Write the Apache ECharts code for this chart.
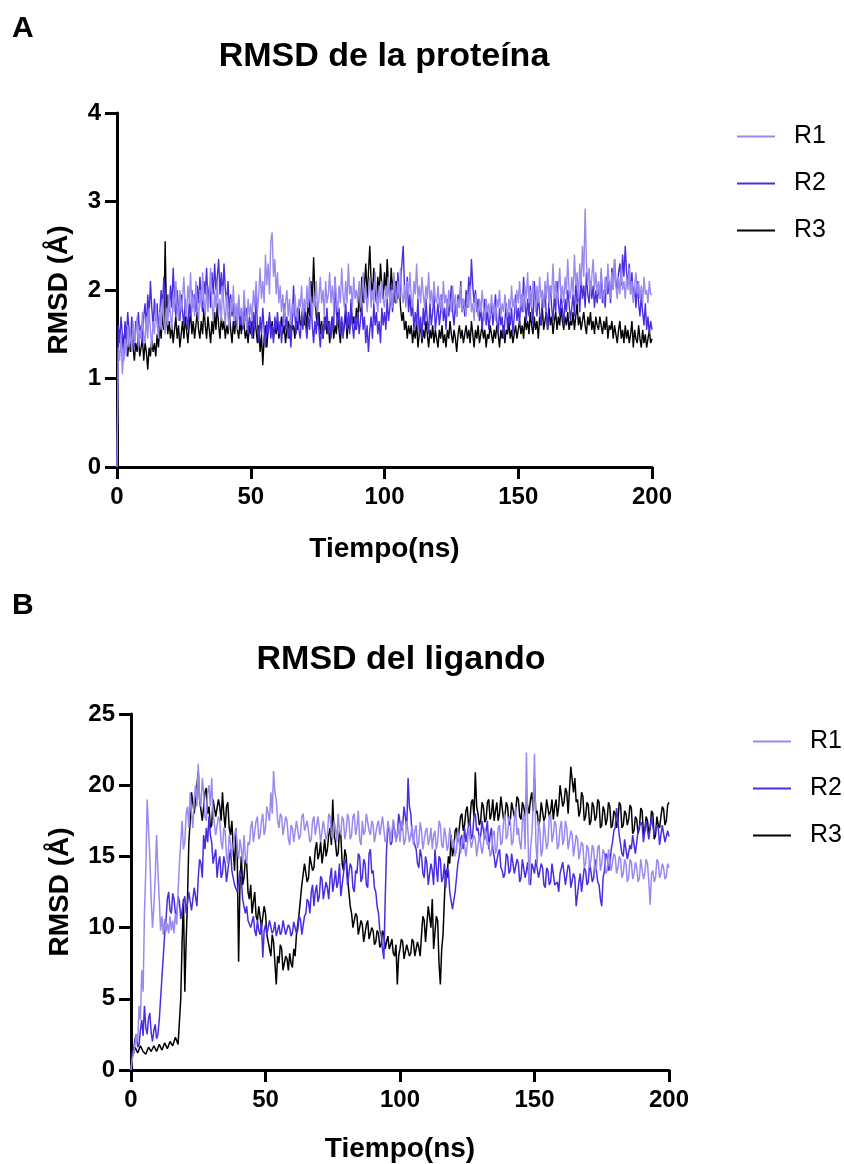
<!DOCTYPE html>
<html>
<head>
<meta charset="utf-8">
<script src="https://cdn.jsdelivr.net/npm/echarts@6/dist/echarts.min.js"></script>
<style>
html,body{margin:0;padding:0;background:#fff;}
#chart{width:844px;height:1164px;}
</style>
</head>
<body>
<div id="chart"></div>
<script>
// ---------- Data ----------
const seriesNames = ['R1', 'R2', 'R3'];
const xTicks = [0, 50, 100, 150, 200];
const yTicksProtein = [0, 1, 2, 3, 4];
const yTicksLigand = [0, 5, 10, 15, 20, 25];
const proteinStepNs = 0.5;   // sampling of panel A series
const ligandStepNs = 0.5;    // sampling of panel B series

// Panel A: RMSD de la proteína (t = 0..200 ns, every 0.5 ns)
const proteinR1 = [
0,1.35,1.20,1.50,1.05,1.30,1.45,1.25,1.60,1.35,1.55,1.30,1.65,1.40,1.50,1.70,1.35,1.55,1.45,1.75,
1.50,1.40,1.70,1.45,1.80,1.55,1.35,1.65,1.50,1.85,1.60,1.45,1.75,1.55,1.90,1.65,1.50,1.80,1.60,1.95,
1.70,1.55,1.95,1.75,2.10,1.80,1.65,2.00,1.75,1.90,2.15,1.80,1.70,2.05,1.85,2.20,1.75,1.95,1.70,2.10,
1.85,1.65,2.00,1.80,2.20,1.90,1.70,2.05,1.75,1.95,2.25,1.85,1.65,2.00,1.80,2.10,1.70,1.90,1.65,2.05,
1.80,1.60,1.95,1.70,1.55,1.90,1.75,2.05,1.65,1.85,1.55,1.95,1.70,1.80,1.60,2.00,1.75,1.55,1.90,1.70,
1.85,1.65,2.00,1.80,2.10,1.75,1.95,2.25,1.90,2.10,1.85,2.40,2.05,2.30,1.95,2.55,2.65,2.15,2.35,1.95,
2.20,1.85,2.05,1.75,1.95,1.65,1.85,2.00,1.70,1.90,1.60,1.85,1.70,1.95,1.75,1.65,1.90,1.80,2.05,1.70,
1.90,1.75,2.05,1.80,2.15,1.85,1.70,1.95,1.80,2.10,1.75,1.90,2.15,1.85,2.00,1.70,2.10,1.85,1.95,2.20,
1.85,2.05,1.80,2.15,1.90,1.75,2.05,1.85,2.25,1.95,1.80,2.10,1.85,2.30,1.95,2.05,1.80,2.15,1.90,2.00,
1.85,2.10,1.80,1.95,2.20,1.85,2.05,1.75,1.95,2.15,1.80,2.00,1.85,2.20,1.90,1.75,2.05,1.85,2.10,1.90,
1.80,2.05,1.90,2.15,1.85,2.00,1.80,2.20,1.95,1.85,2.10,1.90,2.25,1.95,1.85,2.05,1.80,2.10,1.95,2.20,
1.90,1.80,2.10,1.95,2.30,1.90,2.05,1.85,2.15,1.95,1.80,2.05,1.90,2.20,1.85,2.00,1.80,2.10,1.90,1.85,
2.05,1.80,1.95,1.75,2.10,1.85,1.95,1.70,2.00,1.85,1.75,2.05,1.80,1.95,1.70,1.90,1.80,2.05,1.75,1.90,
1.80,1.70,1.95,1.80,2.05,1.75,1.85,1.65,1.95,1.80,1.70,1.90,1.75,2.00,1.80,1.65,1.90,1.75,1.85,1.70,
1.95,1.75,1.85,1.65,1.90,1.80,2.00,1.70,1.85,1.75,1.95,1.80,1.70,1.90,1.75,2.05,1.80,1.90,1.75,2.00,
1.85,2.10,1.80,1.95,1.75,2.05,1.90,2.20,1.85,2.00,1.80,2.10,1.90,1.75,2.05,1.85,2.15,1.90,2.00,1.80,
2.10,1.90,2.20,1.85,2.05,1.95,2.30,1.90,2.10,1.85,2.00,2.25,1.90,2.05,1.85,2.15,1.95,2.35,2.00,1.90,
2.15,1.95,2.40,2.05,2.20,1.90,2.30,2.05,2.50,2.15,2.92,2.30,2.05,2.25,1.95,2.15,2.35,2.00,2.20,1.95,
2.10,1.90,2.25,2.00,1.85,2.15,1.95,2.30,2.05,1.90,2.20,2.00,2.35,2.05,1.90,2.15,1.95,2.25,2.00,2.10,
1.90,2.15,2.00,2.25,1.95,2.10,1.85,2.05,2.20,1.95,2.10,1.90,2.05,1.85,2.15,1.95,2.00,1.85,2.10,1.95,
1.95];

const proteinR2 = [
0,1.60,1.40,1.70,1.50,1.20,1.65,1.45,1.75,1.55,1.40,1.70,1.50,1.35,1.65,1.55,1.75,1.45,1.60,1.40,
1.70,1.85,1.55,1.95,1.70,2.10,1.80,1.60,1.90,1.65,1.85,1.55,1.75,2.00,1.80,2.15,1.85,1.65,1.95,1.75,
2.05,1.80,2.25,1.90,1.70,2.00,1.80,1.65,1.95,1.75,1.60,1.90,1.70,1.55,1.85,1.70,2.00,1.80,1.95,1.75,
2.05,1.85,2.15,1.90,1.75,2.10,1.95,2.25,1.85,2.05,1.80,2.20,1.95,2.30,2.00,2.15,2.35,1.95,2.20,1.90,
2.30,2.00,1.85,2.10,1.75,1.95,1.70,1.85,1.60,1.80,1.65,1.90,1.60,1.75,1.55,1.85,1.65,1.80,1.50,1.70,
1.60,1.45,1.75,1.55,1.95,1.60,1.40,1.70,1.50,1.80,1.55,1.35,1.65,1.50,1.75,1.45,1.60,1.40,1.70,1.55,
1.75,1.50,1.65,1.40,1.60,1.85,1.55,1.70,1.45,1.60,1.35,1.65,2.05,1.70,1.50,1.80,1.55,1.45,1.70,1.55,
1.80,1.60,1.45,1.70,1.55,1.90,1.60,1.40,1.65,1.50,1.75,1.55,1.35,1.60,1.45,1.70,1.55,1.80,1.50,1.65,
1.45,1.70,1.55,2.15,1.75,1.60,1.80,1.50,1.70,1.45,1.65,1.85,1.55,1.75,1.50,1.90,1.60,1.45,1.70,1.55,
1.75,1.50,1.65,1.85,1.55,1.70,1.40,1.60,1.30,1.55,1.70,1.45,1.85,1.60,1.75,1.50,1.65,1.40,1.80,1.60,
1.75,1.55,1.90,1.65,1.80,2.05,1.75,1.95,2.10,1.85,2.20,1.90,2.05,2.30,2.50,2.00,1.85,2.15,1.75,1.95,
1.70,1.85,1.55,1.75,1.60,1.90,1.50,1.70,1.45,1.80,1.60,1.90,1.65,1.50,1.85,1.60,1.75,1.95,1.55,1.70,
1.85,1.60,1.75,1.95,1.65,1.80,1.55,1.90,1.70,1.85,2.05,1.75,1.60,1.85,1.70,1.95,1.80,2.10,1.75,1.90,
1.70,2.00,1.80,2.15,1.90,2.35,2.05,1.85,2.00,1.75,1.90,1.65,1.80,1.55,1.75,1.90,1.60,1.80,1.55,1.70,
1.85,1.60,1.75,1.95,1.65,1.50,1.80,1.60,1.70,1.45,1.65,1.85,1.55,1.75,1.60,1.80,1.50,1.70,1.95,1.65,
1.80,1.60,1.95,1.75,2.15,1.85,1.65,1.90,1.70,2.05,1.80,1.60,2.10,1.85,1.70,1.95,1.75,1.60,1.90,1.80,
2.00,1.70,1.55,1.90,2.05,1.80,1.65,1.95,1.75,2.10,1.85,1.70,1.95,1.80,1.60,1.90,1.75,2.00,1.85,1.65,
1.80,1.95,1.70,2.10,1.85,2.00,1.75,2.15,1.90,2.05,1.80,2.20,1.95,1.85,2.10,1.90,2.05,1.80,2.00,1.85,
2.05,1.90,2.20,1.85,2.00,1.80,2.15,1.95,2.10,1.85,2.25,2.00,2.35,2.10,1.95,2.20,2.30,2.05,2.40,2.15,
2.50,2.20,2.05,2.30,1.95,2.20,1.90,2.05,1.80,2.10,1.85,1.70,1.95,1.75,1.60,1.85,1.55,1.70,1.50,1.65,
1.55];

const proteinR3 = [
0,1.40,1.55,1.30,1.50,1.35,1.60,1.40,1.25,1.45,1.30,1.55,1.35,1.20,1.40,1.30,1.50,1.25,1.35,1.45,
1.20,1.40,1.30,1.10,1.35,1.25,1.45,1.30,1.40,1.25,1.50,1.35,1.60,1.45,1.75,1.55,2.55,1.70,1.50,1.65,
1.45,1.60,1.40,1.55,1.70,1.45,1.60,1.35,1.50,1.65,1.45,1.70,1.55,1.40,1.60,1.75,1.50,1.65,1.45,1.60,
1.75,1.55,1.45,1.65,1.50,1.80,1.60,1.45,1.70,1.55,1.40,1.65,1.50,1.75,1.55,1.85,1.60,1.45,1.70,1.55,
1.65,1.45,1.60,1.50,1.75,1.55,1.40,1.65,1.50,1.70,1.55,1.45,1.65,1.50,1.75,1.60,1.45,1.55,1.40,1.60,
1.50,1.65,1.45,1.70,1.55,1.40,1.60,1.30,1.50,1.15,1.45,1.60,1.35,1.55,1.70,1.50,1.65,1.45,1.60,1.50,
1.65,1.45,1.55,1.70,1.50,1.60,1.40,1.55,1.65,1.45,1.75,1.55,1.60,1.45,1.70,1.55,1.80,1.60,1.65,1.85,
1.60,1.75,1.55,1.90,1.70,2.10,1.85,2.37,1.95,1.70,1.60,1.75,1.50,1.65,1.45,1.60,1.70,1.50,1.65,1.40,
1.55,1.70,1.45,1.60,1.50,1.75,1.55,1.40,1.65,1.50,1.60,1.75,1.45,1.65,1.55,1.85,1.60,1.70,1.55,1.80,
1.65,1.95,1.75,2.15,1.85,2.05,2.30,1.90,2.20,2.50,2.10,1.95,2.25,2.00,1.85,2.15,1.95,2.30,2.05,1.90,
2.20,1.95,2.35,2.05,1.90,2.25,2.00,2.15,1.85,2.10,1.90,2.05,1.80,1.65,1.75,1.55,1.65,1.45,1.60,1.50,
1.60,1.40,1.55,1.45,1.65,1.35,1.50,1.60,1.40,1.55,1.45,1.65,1.50,1.35,1.55,1.45,1.60,1.40,1.55,1.45,
1.35,1.55,1.45,1.60,1.40,1.50,1.35,1.55,1.45,1.65,1.50,1.40,1.55,1.45,1.30,1.50,1.60,1.45,1.55,1.40,
1.50,1.60,1.45,1.55,1.40,1.65,1.50,1.35,1.55,1.45,1.60,1.40,1.50,1.60,1.45,1.55,1.35,1.50,1.45,1.60,
1.50,1.40,1.55,1.45,1.60,1.50,1.35,1.55,1.45,1.60,1.40,1.55,1.50,1.65,1.45,1.55,1.40,1.50,1.60,1.45,
1.55,1.65,1.50,1.60,1.45,1.70,1.55,1.65,1.50,1.75,1.60,1.50,1.70,1.55,1.65,1.45,1.70,1.60,1.80,1.55,
1.65,1.75,1.55,1.80,1.60,1.70,1.50,1.65,1.75,1.55,1.70,1.60,1.80,1.65,1.55,1.70,1.60,1.75,1.55,1.65,
1.60,1.75,1.55,1.70,1.85,1.60,1.70,1.55,1.65,1.75,1.60,1.50,1.70,1.60,1.75,1.55,1.65,1.50,1.70,1.60,
1.55,1.70,1.60,1.50,1.65,1.55,1.70,1.45,1.60,1.55,1.65,1.45,1.60,1.50,1.40,1.55,1.65,1.45,1.55,1.40,
1.60,1.45,1.55,1.40,1.50,1.65,1.35,1.55,1.45,1.40,1.60,1.45,1.35,1.55,1.40,1.50,1.35,1.45,1.55,1.40,
1.45];

// Panel B: RMSD del ligando (t = 0..200 ns, every 0.5 ns)
const ligandR1 = [
0,0.8,1.2,1.8,2.5,2.0,4.5,3.5,7.0,5.5,11.0,14.0,19.0,17.0,15.0,12.0,10.0,11.5,13.5,16.5,
14.0,12.0,9.8,10.8,9.5,10.6,9.7,10.3,9.6,10.8,9.8,10.5,9.6,11.0,10.2,12.5,14.5,16.0,17.5,15.5,
16.0,18.0,18.5,17.0,19.5,18.0,17.0,19.0,20.0,18.5,21.5,19.0,18.5,20.5,19.5,17.8,17.5,19.5,20.0,18.5,
20.5,18.0,18.0,16.5,16.5,17.8,17.5,16.0,15.5,17.0,16.8,15.0,14.5,16.5,16.0,15.0,15.0,16.5,17.0,15.5,
14.8,16.2,15.5,14.5,16.5,15.0,14.5,16.0,15.8,17.0,17.5,16.0,16.0,17.5,17.8,16.2,16.5,17.5,18.0,16.5,
17.0,18.5,18.5,17.5,19.5,18.0,21.0,19.5,19.0,17.5,17.0,18.0,17.8,16.5,16.5,17.8,17.5,16.2,15.8,17.2,
17.0,16.0,16.0,17.5,17.5,16.2,16.5,17.8,18.0,16.8,16.8,17.5,17.5,16.0,16.2,17.5,17.8,16.5,16.5,17.8,
17.0,16.0,16.0,17.5,17.5,16.2,16.5,18.0,17.8,16.5,16.2,17.5,17.0,16.0,18.0,16.8,16.5,17.8,17.5,16.2,
16.8,18.0,17.6,16.2,16.5,17.8,18.0,16.5,17.0,18.2,16.2,15.8,17.5,16.5,16.8,18.0,18.0,16.8,16.5,17.5,
17.2,16.0,16.0,17.2,17.5,16.5,16.5,17.8,17.8,16.0,16.2,17.5,17.0,16.0,16.0,17.6,17.5,16.0,16.5,17.2,
16.0,17.5,17.0,15.8,16.2,17.5,17.5,16.0,16.5,17.2,15.8,16.8,17.2,15.6,16.0,17.4,16.8,15.5,15.5,16.8,
17.0,15.8,16.2,17.0,15.5,16.5,16.8,15.5,16.0,17.5,17.2,15.8,15.6,17.0,16.5,15.4,15.8,17.0,17.0,15.6,
16.2,15.0,15.5,16.8,16.8,15.2,15.2,16.5,16.5,15.0,15.8,17.0,17.0,15.6,15.5,16.5,16.2,15.0,15.0,16.5,
16.5,15.2,15.8,17.0,17.0,15.8,16.0,15.0,15.2,16.5,16.8,15.2,15.5,17.0,17.2,15.8,16.0,17.5,18.0,16.2,
16.5,17.8,17.5,15.8,16.0,17.5,18.5,16.5,17.0,16.0,15.5,17.5,18.0,15.5,22.3,17.0,13.0,15.5,16.5,18.5,
22.2,16.0,14.5,17.5,16.8,15.0,15.5,17.5,17.5,15.5,16.0,17.8,18.0,16.0,16.5,17.5,17.2,15.5,15.8,17.0,
17.5,15.8,16.2,17.5,17.0,15.5,15.5,16.8,16.5,15.0,15.0,16.5,16.2,14.8,14.8,16.0,15.8,14.2,14.5,15.8,
15.5,14.2,14.8,15.8,15.5,14.0,14.2,15.6,15.8,14.0,14.5,15.5,15.2,13.8,14.0,15.5,15.5,14.0,14.6,15.2,
15.0,13.8,14.2,15.0,14.8,13.5,13.8,14.8,14.5,13.2,13.5,14.8,14.6,13.4,13.8,14.6,14.2,13.2,13.5,14.8,
14.8,13.4,13.8,14.8,14.5,13.2,11.6,13.8,14.0,13.2,13.5,14.8,14.6,13.5,13.8,14.5,14.2,13.4,13.6,14.5,
14.2];

const ligandR2 = [
0,1.2,1.5,2.2,2.5,1.6,1.8,2.8,3.5,2.4,4.5,3.0,2.5,3.6,4.0,2.6,2.0,2.8,3.2,2.2,
2.5,3.5,5.0,6.5,8.0,9.5,10.5,12.0,12.5,11.2,11.0,12.4,12.0,11.0,10.8,12.2,11.8,10.6,10.5,11.8,
12.2,11.0,11.0,12.5,12.5,11.2,11.2,12.8,12.8,11.5,13.5,14.8,14.5,13.5,16.5,15.5,17.0,16.0,17.8,16.5,
16.0,14.5,14.5,15.5,13.5,14.5,15.0,13.5,13.8,15.0,14.5,13.2,13.2,14.8,15.5,14.0,14.0,13.0,13.0,12.5,
12.5,14.0,13.5,12.0,12.0,11.0,11.5,10.5,10.5,10.0,10.0,10.8,9.8,9.4,10.5,9.8,9.5,10.4,7.9,9.8,
10.2,9.5,9.6,10.5,10.5,9.6,9.8,10.4,9.4,9.8,10.2,9.5,9.7,10.5,10.4,9.5,9.5,10.2,10.0,9.4,
9.6,10.4,10.5,9.6,9.8,10.8,10.6,9.5,9.5,10.8,11.0,12.0,11.8,11.0,12.5,13.0,11.5,12.5,13.0,11.8,
12.2,13.6,13.4,12.0,12.0,13.2,12.8,12.0,13.5,14.2,12.5,13.2,14.0,12.8,13.2,14.5,12.2,13.0,13.8,14.8,
14.5,13.0,13.0,14.5,14.2,12.8,12.5,14.0,13.8,15.2,15.0,13.2,13.5,14.8,14.5,13.0,12.8,15.2,15.5,13.8,
14.0,12.8,12.5,11.5,11.0,9.8,9.5,8.5,7.8,12.0,15.5,16.8,17.0,15.8,16.0,17.5,17.5,16.2,16.5,18.0,
18.0,16.8,17.2,18.5,18.5,17.0,20.5,18.5,18.0,16.5,16.5,15.8,15.5,14.5,14.2,15.5,15.0,13.8,13.5,15.0,
14.5,13.0,13.0,14.5,14.0,13.0,15.5,14.2,13.2,15.0,14.8,13.2,13.5,14.5,12.8,14.2,14.0,12.5,12.5,11.3,
11.3,12.5,13.5,14.5,15.0,16.2,16.5,15.5,17.0,16.0,16.0,17.2,17.5,16.2,16.5,17.8,18.0,16.8,17.0,16.2,
16.5,17.5,17.5,16.2,16.8,17.5,15.5,16.5,17.0,15.5,15.0,14.2,14.2,15.2,15.5,14.2,14.0,13.5,13.8,15.2,
15.0,13.8,14.0,15.2,15.2,13.8,13.8,14.8,14.5,13.2,13.5,14.8,14.8,13.5,14.0,14.6,13.2,13.0,14.5,14.2,
13.8,14.8,14.8,13.5,13.5,14.5,14.2,13.0,12.8,14.2,14.0,13.0,13.2,14.5,14.5,13.0,13.0,13.2,12.5,13.8,
13.8,14.6,14.5,13.0,13.0,14.4,14.2,12.8,12.8,13.8,13.5,11.5,11.5,13.2,13.8,12.5,12.5,14.2,14.0,13.0,
13.2,14.6,14.5,13.2,13.5,14.8,14.8,13.2,13.0,12.0,11.5,13.5,14.0,15.2,15.0,14.0,14.2,15.5,16.0,16.8,
17.0,18.4,18.4,16.5,16.5,15.2,15.0,16.2,16.2,14.8,14.8,15.8,15.5,16.5,16.5,15.2,15.2,16.8,16.8,17.4,
17.2,16.0,16.0,17.5,17.5,16.2,16.2,17.8,17.8,16.5,16.5,17.2,17.0,15.8,15.8,17.2,17.2,16.0,16.0,16.8,
16.4];

const ligandR3 = [
0,1.0,1.2,1.6,1.5,1.2,1.3,1.7,1.6,1.3,1.4,1.1,1.2,1.6,1.5,1.3,1.3,1.7,1.6,1.3,
1.4,1.8,1.7,1.4,1.5,1.9,1.8,1.5,1.6,2.0,2.0,1.7,1.8,2.3,2.2,1.8,1.9,5.0,9.0,12.0,
5.5,9.0,12.0,16.0,17.5,19.5,19.5,18.0,18.0,20.0,21.0,19.0,19.0,17.5,17.5,19.5,19.8,18.0,18.5,17.0,
17.2,19.0,19.0,17.8,17.8,19.0,18.5,17.5,19.5,18.0,17.0,18.5,18.8,17.0,16.5,17.5,15.5,14.0,17.0,15.0,
7.6,13.0,15.0,13.0,13.5,14.8,14.5,12.5,12.0,13.0,11.0,11.8,12.5,10.8,10.5,11.5,11.5,10.0,10.0,11.5,
11.0,9.5,9.5,8.5,8.0,9.5,9.0,7.5,6.0,8.0,7.5,8.8,8.5,7.0,7.0,8.0,7.8,7.0,8.2,7.5,
7.2,8.5,8.0,9.5,9.5,11.0,11.0,13.0,13.0,14.5,14.5,13.2,13.5,15.0,15.0,14.0,14.2,15.5,16.0,14.8,
15.2,16.0,14.5,15.2,16.2,15.0,15.5,16.5,17.0,15.8,19.0,16.5,16.0,15.0,15.2,16.8,16.5,14.5,14.0,15.5,
15.0,13.5,12.5,11.5,11.0,10.0,10.0,11.0,10.8,9.5,9.5,10.5,10.2,9.0,9.0,10.2,10.5,9.2,9.2,10.0,
9.8,8.8,9.0,9.8,9.6,8.6,8.8,9.8,9.5,8.5,9.0,9.4,8.5,8.8,9.2,8.2,8.0,8.8,6.0,8.0,
8.5,9.2,9.0,7.8,7.8,8.8,8.8,8.0,8.2,9.2,9.0,8.0,8.0,9.0,8.6,8.0,9.5,10.8,10.5,9.0,
9.0,11.5,11.5,10.0,12.0,8.5,8.5,10.8,10.5,7.5,6.0,8.5,9.5,12.0,14.0,13.5,15.0,14.5,16.5,15.0,
15.5,16.8,17.0,16.0,16.0,17.8,18.0,16.8,17.2,18.2,18.5,17.2,17.5,18.8,19.0,17.8,20.9,18.5,18.0,17.2,
17.5,18.8,18.5,17.4,17.6,18.8,19.0,17.6,18.0,19.0,17.5,18.2,18.8,17.5,18.0,19.2,19.2,17.6,17.8,18.8,
18.5,17.2,17.5,18.8,18.8,17.8,18.2,19.2,19.0,17.8,17.6,18.8,18.5,17.8,19.2,18.5,18.0,19.0,19.5,18.2,
20.5,18.0,18.2,17.2,17.5,18.8,18.8,17.5,17.8,19.0,19.0,17.8,18.2,19.0,17.6,18.5,19.0,17.8,18.5,20.0,
20.0,18.5,18.8,19.8,19.5,18.0,18.0,21.3,21.3,19.5,20.5,18.8,19.0,17.8,18.2,19.5,19.2,17.5,17.8,18.8,
18.6,17.2,17.5,18.8,18.5,17.5,17.8,19.0,18.8,17.0,17.2,18.5,18.2,17.2,17.6,18.8,18.5,17.0,17.2,18.2,
18.0,17.0,17.5,18.8,18.6,17.0,17.2,18.2,18.0,17.2,17.6,18.6,18.4,16.6,16.8,17.8,17.6,16.6,17.0,18.4,
18.2,16.6,16.8,17.8,17.5,16.6,17.0,18.2,18.0,16.2,16.5,17.8,17.2,17.0,17.8,18.5,18.3,17.2,17.5,18.6,
18.8];

// ---------- Styling ----------
const colors = ['#9a8af0', '#4a2de0', '#000000'];
const FONT = "'Liberation Sans', Arial, sans-serif";
const toPairs = (arr, step) => arr.map((v, i) => [i * step, v]);

function xAxis(gridIndex, gap) {
  return {
    gridIndex, type: 'value', min: xTicks[0], max: xTicks[xTicks.length - 1], interval: 50,
    name: 'Tiempo(ns)', nameLocation: 'middle', nameGap: gap,
    nameTextStyle: { fontFamily: FONT, fontWeight: 'bold', fontSize: 28, color: '#000' },
    axisLine: { show: true, lineStyle: { color: '#000', width: 3 } },
    axisTick: { show: true, length: 12, lineStyle: { color: '#000', width: 3 } },
    axisLabel: { fontFamily: FONT, fontWeight: 'bold', fontSize: 24, color: '#000', margin: 18 },
    splitLine: { show: false }
  };
}
function yAxis(gridIndex, max, interval, gap) {
  return {
    gridIndex, type: 'value', min: 0, max, interval,
    name: 'RMSD (Å)', nameLocation: 'middle', nameGap: gap, nameRotate: 90,
    nameTextStyle: { fontFamily: FONT, fontWeight: 'bold', fontSize: 28, color: '#000' },
    axisLine: { show: true, lineStyle: { color: '#000', width: 3 } },
    axisTick: { show: true, length: 12, lineStyle: { color: '#000', width: 3 } },
    axisLabel: { fontFamily: FONT, fontWeight: 'bold', fontSize: 24, color: '#000', margin: 16 },
    splitLine: { show: false }
  };
}
function lineSeries(name, data, step, idx, axisIdx, width) {
  return {
    name, type: 'line', xAxisIndex: axisIdx, yAxisIndex: axisIdx,
    data: toPairs(data, step), showSymbol: false, symbol: 'none',
    lineStyle: { color: colors[idx], width }, itemStyle: { color: colors[idx] },
    emphasis: { disabled: true }, z: 2 + (2 - idx)
  };
}
function legend(left, top) {
  return {
    left, top, orient: 'vertical', itemGap: 22, icon: 'rect', itemWidth: 38, itemHeight: 2,
    data: seriesNames,
    textStyle: { fontFamily: FONT, fontSize: 25, color: '#000', padding: [0, 0, 0, 14], lineHeight: 25 },
    selectedMode: false
  };
}

const chart = echarts.init(document.getElementById('chart'), null, { renderer: 'canvas' });
chart.setOption({
  animation: false,
  backgroundColor: '#fff',
  grid: [
    { left: 117, top: 113, width: 535, height: 354 },
    { left: 131, top: 714, width: 538, height: 357 }
  ],
  xAxis: [xAxis(0, 68), xAxis(1, 65)],
  yAxis: [yAxis(0, yTicksProtein[yTicksProtein.length - 1], 1, 44), yAxis(1, yTicksLigand[yTicksLigand.length - 1], 5, 57)],
  legend: [legend(732, 119), legend(748, 724)],
  graphic: [
    { type: 'text', x: 12, y: 29, style: { text: 'A', font: "bold 30px " + FONT, fill: '#000', textAlign: 'left', textVerticalAlign: 'middle', align: 'left', verticalAlign: 'middle' } },
    { type: 'text', x: 384, y: 57, style: { text: 'RMSD de la proteína', font: "bold 34px " + FONT, fill: '#000', textAlign: 'center', textVerticalAlign: 'middle', align: 'center', verticalAlign: 'middle' } },
    { type: 'text', x: 12, y: 606, style: { text: 'B', font: "bold 30px " + FONT, fill: '#000', textAlign: 'left', textVerticalAlign: 'middle', align: 'left', verticalAlign: 'middle' } },
    { type: 'text', x: 401, y: 660, style: { text: 'RMSD del ligando', font: "bold 34px " + FONT, fill: '#000', textAlign: 'center', textVerticalAlign: 'middle', align: 'center', verticalAlign: 'middle' } }
  ],
  series: [
    lineSeries('R1', proteinR1, proteinStepNs, 0, 0, 1.4),
    lineSeries('R2', proteinR2, proteinStepNs, 1, 0, 1.4),
    lineSeries('R3', proteinR3, proteinStepNs, 2, 0, 1.4),
    lineSeries('R1', ligandR1, ligandStepNs, 0, 1, 1.5),
    lineSeries('R2', ligandR2, ligandStepNs, 1, 1, 1.5),
    lineSeries('R3', ligandR3, ligandStepNs, 2, 1, 1.5)
  ]
});
</script>
</body>
</html>
